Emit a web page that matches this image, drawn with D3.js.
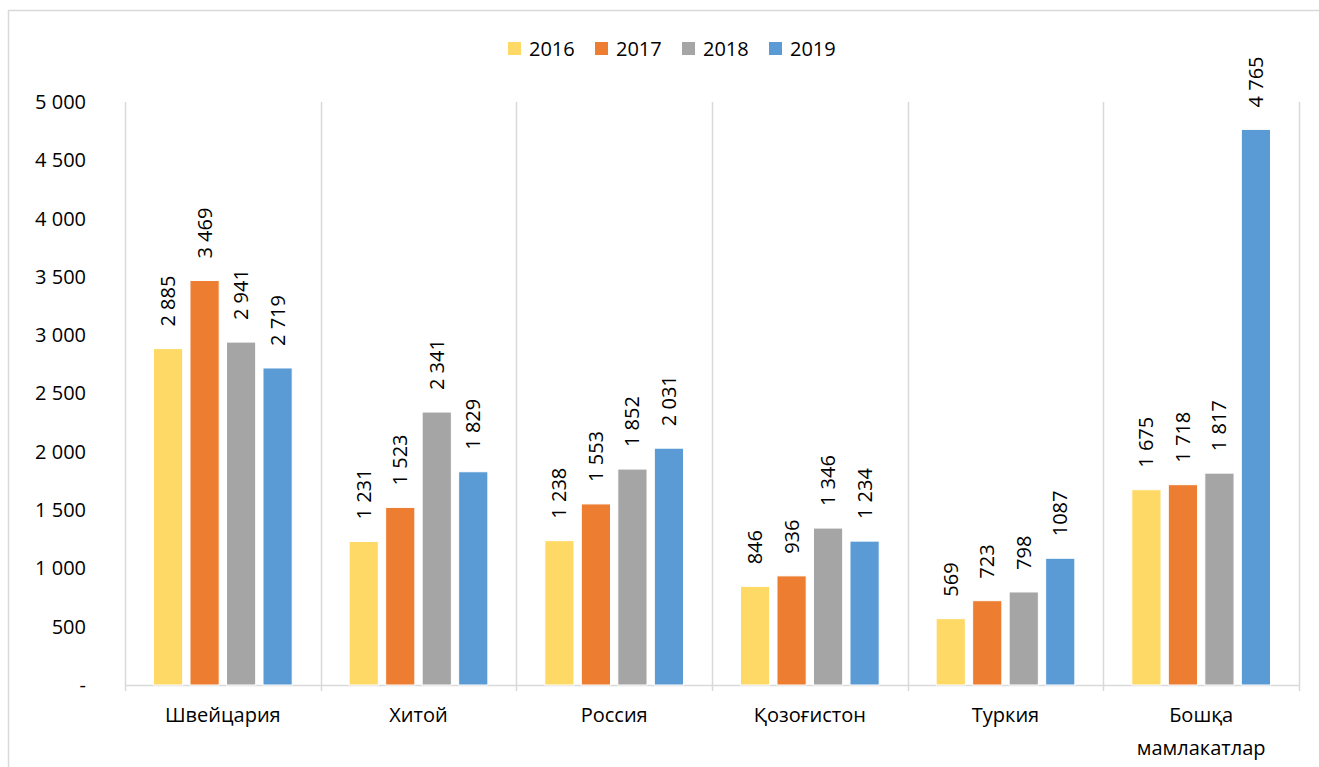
<!DOCTYPE html>
<html>
<head>
<meta charset="utf-8">
<script src="https://cdn.jsdelivr.net/npm/d3@7"></script>
<style>
  body { margin: 0; background: #fff; }
  text { font-family: "Open Sans", "Noto Sans", sans-serif; fill: #000; }
</style>
</head>
<body>
<script>
let width = 1319;
let height = 767;

// data
let countries = ["Швейцария", "Хитой", "Россия", "Қозоғистон", "Туркия", "Бошқа мамлакатлар"];
let years = ["2016", "2017", "2018", "2019"];
let colors = ["#FFD966", "#ED7D31", "#A5A5A5", "#5B9BD5"];
let values2016 = [2885, 1231, 1238, 846, 569, 1675];
let values2017 = [3469, 1523, 1553, 936, 723, 1718];
let values2018 = [2941, 2341, 1852, 1346, 798, 1817];
let values2019 = [2719, 1829, 2031, 1234, 1087, 4765];
let yTicks = [0, 500, 1000, 1500, 2000, 2500, 3000, 3500, 4000, 4500, 5000];
// this one label is shown without a thousands space in the source
let ungrouped = new Set(["Туркия|2019"]);

let series = [values2016, values2017, values2018, values2019];

let margin = { left: 125, right: 20, top: 102, bottom: 82 };

let svg = d3.select("body").append("svg")
    .attr("width", width)
    .attr("height", height);

// outer chart frame (only top and left edges visible)
svg.append("path")
    .attr("d", "M8.5," + height + "V10.5H" + width)
    .attr("fill", "none")
    .attr("stroke", "#d9d9d9")
    .attr("stroke-width", 1.5);

let x = d3.scaleBand()
    .domain(countries)
    .range([margin.left, width - margin.right]);

let y = d3.scaleLinear()
    .domain([0, 5000])
    .range([height - margin.bottom, margin.top]);

let inner = d3.scaleBand()
    .domain(years)
    .range([0, x.bandwidth()])
    .paddingInner(0.2)
    .paddingOuter(0.78);

let spaceFmt = function(v) {
  if (v === 0) return "-";
  return d3.format(",")(v).replace(/,/g, "\u00a0");
};

// vertical gridlines at category boundaries
let bounds = countries.map(c => x(c)).concat([x(countries[countries.length - 1]) + x.bandwidth()]);
svg.append("g").attr("class", "grid")
  .selectAll("line")
  .data(bounds)
  .enter().append("line")
    .attr("x1", d => Math.round(d) + 0.5)
    .attr("x2", d => Math.round(d) + 0.5)
    .attr("y1", y(5000))
    .attr("y2", y(0) + 6)
    .attr("stroke", "#d9d9d9")
    .attr("stroke-width", 1.5);

// x axis baseline
svg.append("line")
    .attr("x1", bounds[0])
    .attr("x2", bounds[bounds.length - 1])
    .attr("y1", y(0) + 0.5)
    .attr("y2", y(0) + 0.5)
    .attr("stroke", "#d9d9d9")
    .attr("stroke-width", 1.5);

// y axis labels
let yAxis = d3.axisLeft(y)
    .tickValues(yTicks)
    .tickSize(0)
    .tickPadding(0)
    .tickFormat(spaceFmt);

let yg = svg.append("g")
    .attr("transform", "translate(86,0)")
    .call(yAxis);
yg.select(".domain").remove();
yg.selectAll("text")
    .style("font-size", "20px")
    .style("font-family", "'Open Sans', 'Noto Sans', sans-serif")
    .attr("fill", "#000");

// bars
let flat = [];
countries.forEach(function(c, i) {
  years.forEach(function(yr, j) {
    flat.push({ country: c, year: yr, value: series[j][i], color: colors[j] });
  });
});

let groups = svg.append("g").attr("class", "bars");
groups.selectAll("rect")
  .data(flat)
  .enter().append("rect")
    .attr("x", d => x(d.country) + inner(d.year))
    .attr("width", inner.bandwidth())
    .attr("y", d => y(d.value))
    .attr("height", d => y(0) - y(d.value))
    .attr("fill", d => d.color)
    .attr("stroke", "#fff")
    .attr("stroke-width", 1);

// rotated data labels
groups.selectAll("text")
  .data(flat)
  .enter().append("text")
    .attr("transform", function(d) {
      let cx = x(d.country) + inner(d.year) + inner.bandwidth() / 2 + 7;
      let cy = y(d.value) - 22;
      return "translate(" + cx + "," + cy + ") rotate(-90)";
    })
    .attr("text-anchor", "start")
    .style("font-size", "20px")
    .text(function(d) {
      if (ungrouped.has(d.country + "|" + d.year)) return String(d.value);
      return spaceFmt(d.value);
    });

// category labels
let catLabels = svg.append("g").attr("class", "cats")
  .selectAll("text")
  .data(countries)
  .enter().append("text")
    .attr("x", d => x(d) + x.bandwidth() / 2)
    .attr("y", 722)
    .attr("text-anchor", "middle")
    .style("font-size", "20px");

catLabels.each(function(d) {
  let words = d.split(" ");
  let t = d3.select(this);
  words.forEach(function(w, i) {
    t.append("tspan")
      .attr("x", x(d) + x.bandwidth() / 2)
      .attr("dy", i === 0 ? 0 : 33)
      .text(w);
  });
});

// legend
let legend = svg.append("g").attr("class", "legend")
  .selectAll("g")
  .data(years)
  .enter().append("g")
    .attr("transform", (d, i) => "translate(" + (508 + i * 87) + ",42)");

legend.append("rect")
    .attr("width", 13)
    .attr("height", 13)
    .attr("fill", (d, i) => colors[i]);

legend.append("text")
    .attr("x", 21)
    .attr("y", 14)
    .style("font-size", "20px")
    .text(d => d);
</script>
</body>
</html>
